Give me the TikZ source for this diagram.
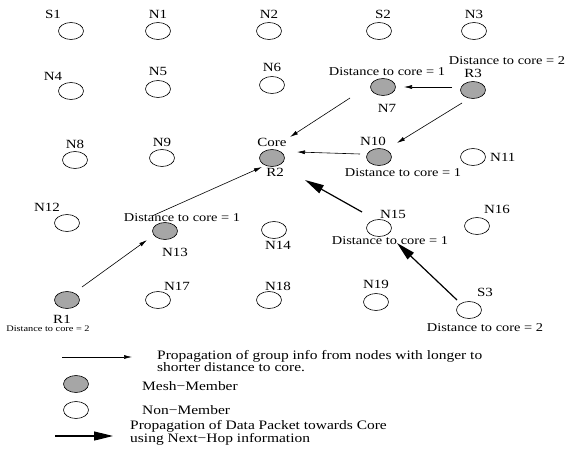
\documentclass[tikz,border=0pt]{standalone}
\usepackage{fontspec}
\setmainfont{Liberation Serif}
\newfontfamily\widefont[FakeStretch=1.2]{Liberation Serif}
\usetikzlibrary{shapes.geometric,arrows.meta,calc}

\tikzset{
  nonmem/.style={draw,ellipse,minimum width=25pt,minimum height=17pt,inner sep=0pt,outer sep=0pt,line width=0.6pt},
  meshmem/.style={nonmem,fill=gray!70},
  lbl/.style={inner sep=0pt,font=\widefont\fontsize{12.5}{13}\selectfont},
  dist/.style={inner sep=0pt,font=\widefont\fontsize{12}{12}\selectfont},
  legtxt/.style={inner sep=0pt,align=left,anchor=west,font=\widefont\fontsize{12.9}{11.5}\selectfont},
  info/.style={-{Latex[length=8pt,width=4pt]},line width=0.6pt},
  data/.style={-{Triangle[length=19pt,width=9pt]},line width=1.2pt},
}

\begin{document}
\begin{tikzpicture}[x=1pt,y=-1pt]
\useasboundingbox (0,0) rectangle (577,449);
% row 1
\draw (71,31) node[nonmem] (S1) {};
\draw (S1.north) node[lbl,above=4pt,xshift=-18pt] (lS1) {S1};
\draw (158,31) node[nonmem] (N1) {};
\draw (N1.north) node[lbl,above=4pt] (lN1) {N1};
\draw (269,31) node[nonmem] (N2) {};
\draw (N2.north) node[lbl,above=4pt] (lN2) {N2};
\draw (379,31) node[nonmem] (S2) {};
\draw (S2.north) node[lbl,above=4pt,xshift=4pt] (lS2) {S2};
\draw (474,31) node[nonmem] (N3) {};
\draw (N3.north) node[lbl,above=4pt] (lN3) {N3};
% row 2
\draw (71,91) node[nonmem] (N4) {};
\draw (N4.north) node[lbl,above=1.5pt,xshift=-18pt] (lN4) {N4};
\draw (158,89) node[nonmem] (N5) {};
\draw (N5.north) node[lbl,above=4.5pt] (lN5) {N5};
\draw (272,85) node[nonmem] (N6) {};
\draw (N6.north) node[lbl,above=4.5pt] (lN6) {N6};
\draw (383,87) node[meshmem] (N7) {};
\draw (N7.north) node[dist,above=2.5pt,xshift=4pt] (dN7) {Distance to core = 1};
\draw (N7.south) node[lbl,below=8.5pt,xshift=4pt] (lN7) {N7};
\draw (473,90) node[meshmem] (R3) {};
\draw (R3.north) node[lbl,above=3.5pt] (lR3) {R3};
\draw (R3.north) node[dist,above=17pt,xshift=34pt] (dR3) {Distance to core = 2};
% row 3
\draw (75,160) node[nonmem] (N8) {};
\draw (N8.north) node[lbl,above=2.5pt] (lN8) {N8};
\draw (162,158) node[nonmem] (N9) {};
\draw (N9.north) node[lbl,above=2.5pt] (lN9) {N9};
\draw (272,158) node[meshmem] (R2) {};
\draw (R2.north) node[lbl,above=2.5pt] (lCore) {Core};
\draw (R2.south) node[lbl,below=1.5pt,xshift=3pt] (lR2) {R2};
\draw (379,157) node[meshmem] (N10) {};
\draw (N10.north) node[lbl,above=2.5pt,xshift=-6pt] (lN10) {N10};
\draw (N10.south) node[dist,below=2.5pt,xshift=24pt] (dN10) {Distance to core = 1};
\draw (473,157) node[nonmem] (N11) {};
\draw (N11.east) node[lbl,right=4.5pt] (lN11) {N11};
% row 4
\draw (67,223) node[nonmem] (N12) {};
\draw (N12.north) node[lbl,above=2.5pt,xshift=-20pt] (lN12) {N12};
\draw (165,231) node[meshmem] (N13) {};
\draw (N13.north) node[dist,above=0.5pt,xshift=17pt] (dN13) {Distance to core = 1};
\draw (N13.south) node[lbl,below=8.5pt,xshift=10pt] (lN13) {N13};
\draw (274,230) node[nonmem] (N14) {};
\draw (N14.south) node[lbl,below=2.5pt,xshift=4pt] (lN14) {N14};
\draw (379,228) node[nonmem] (N15) {};
\draw (N15.north) node[lbl,above=0.5pt,xshift=14pt] (lN15) {N15};
\draw (N15.south) node[dist,below=-0.5pt,xshift=11pt] (dN15) {Distance to core = 1};
\draw (477,226) node[nonmem] (N16) {};
\draw (N16.north) node[lbl,above=3.5pt,xshift=20pt] (lN16) {N16};
% row 5
\draw (67,300) node[meshmem] (R1) {};
\draw (R1.south) node[lbl,below=6.5pt,xshift=-5pt] (lR1) {R1};
\draw (R1.south) node[dist,below=17.5pt,xshift=-19pt,font=\widefont\fontsize{8.6}{9}\selectfont] (dR1) {Distance to core = 2};
\draw (158,300) node[nonmem] (N17) {};
\draw (N17.north) node[lbl,above=0.5pt,xshift=19pt] (lN17) {N17};
\draw (269,300) node[nonmem] (N18) {};
\draw (N18.north) node[lbl,above=0.5pt,xshift=9pt] (lN18) {N18};
\draw (376,302) node[nonmem] (N19) {};
\draw (N19.north) node[lbl,above=4.5pt] (lN19) {N19};
\draw (469,310) node[nonmem] (S3) {};
\draw (S3.north) node[lbl,above=4.5pt,xshift=16pt] (lS3) {S3};
\draw (S3.south) node[dist,below=4.5pt,xshift=16pt] (dS3) {Distance to core = 2};

% group info towards core
\draw[info] ($(R3)+(-21,-3)$) -- ($(N7)+(21,0)$);
\draw[info] ($(N7)+(-33,11)$) -- ($(R2)+(18,-21)$);
\draw[info] ($(R3)+(-11,13)$) -- ($(N10)+(18,-14)$);
\draw[info] ($(N10)+(-19,-3)$) -- ($(R2)+(25,-6)$);
\draw[info] ($(R1)+(15,-13)$) -- ($(N13)+(-18,9)$);
\draw[info] ($(N13)+(-13,-15)$) -- ($(R2)+(-10,9)$);
% data packet
\draw[data] ($(S3)+(-12,-10)$) -- ($(N15)+(18,15)$);
\draw[data] ($(N15)+(-17,-16)$) -- ($(R2)+(33,22)$);

% legend
\coordinate (a1) at (62,357);
\coordinate (a2) at (132,357);
\draw[info] (a1) -- (a2);
\draw (157,361) node[legtxt] (t1) {Propagation of group info from nodes with longer to\\shorter distance to core.};
\draw (76,384) node[meshmem] (m1) {};
\draw (142,386) node[legtxt] (t2) {Mesh−Member};
\draw (76,410) node[nonmem] (m2) {};
\draw (142,410) node[legtxt] (t3) {Non−Member};
\coordinate (b1) at (55,436);
\coordinate (b2) at (113,436);
\draw[data] (b1) -- (b2);
\draw (130,432.5) node[legtxt] (t4) {Propagation of Data Packet towards Core\\using Next−Hop information};
\end{tikzpicture}
\end{document}
